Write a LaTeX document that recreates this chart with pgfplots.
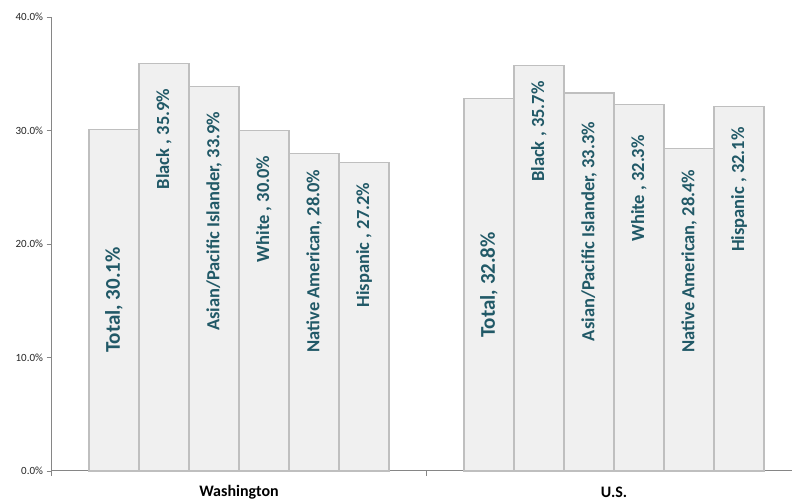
\documentclass[border=0pt]{standalone}
\usepackage{pgfplots}
\pgfplotsset{compat=1.18}
\usepackage{fontspec}
\setmainfont{Carlito}
\definecolor{barfill}{HTML}{F0F0F0}
\definecolor{bardraw}{HTML}{BFBFBF}
\definecolor{axisgray}{HTML}{868686}
\definecolor{lbl}{HTML}{215967}
\begin{document}
\begin{tikzpicture}
\begin{axis}[
  at={(51.5pt,31pt)}, anchor=south west,
  scale only axis, width=740.5pt, height=454pt,
  xmin=0, xmax=14.81, ymin=0, ymax=40,
  axis x line*=bottom, axis y line*=left,
  axis line style={axisgray, line width=1pt, -},
  xtick={0,7.5}, xticklabels={},
  ytick={0,10,20,30,40},
  tick style={axisgray, line width=0.8pt},
  tick align=outside, major tick length=5pt,
  yticklabel={\pgfmathprintnumber[fixed,fixed zerofill,precision=1]{\tick}\%},
  /pgf/number format/assume math mode=true,
  ticklabel style={font=\fontsize{11}{13}\selectfont, color=black!85},
  ybar, bar width=1,
  clip=false,
]
\addplot[fill=barfill, draw=bardraw, line width=1.2pt] coordinates {
  (1.25,30.1) (2.25,35.9) (3.25,33.9) (4.25,30.0) (5.25,28.0) (6.25,27.2)
  (8.75,32.8) (9.75,35.7) (10.75,33.3) (11.75,32.3) (12.75,28.4) (13.75,32.1)
};
\begin{scope}[every node/.style={rotate=90, anchor=center, text=lbl, font=\bfseries\fontsize{18.5}{20}\selectfont}]
\node[font=\bfseries\fontsize{21}{23}\selectfont] at (axis cs:1.25,15.07) {Total, 30.1\%};
\node at (axis cs:2.25,29.25) {Black , 35.9\%};
\node at (axis cs:3.25,22.0) {Asian/Pacific Islander, 33.9\%};
\node at (axis cs:4.25,23.1) {White , 30.0\%};
\node at (axis cs:5.25,18.5) {Native American, 28.0\%};
\node at (axis cs:6.25,19.9) {Hispanic , 27.2\%};
\node[font=\bfseries\fontsize{21}{23}\selectfont] at (axis cs:8.75,16.4) {Total, 32.8\%};
\node at (axis cs:9.75,29.9) {Black , 35.7\%};
\node at (axis cs:10.75,21.1) {Asian/Pacific Islander, 33.3\%};
\node at (axis cs:11.75,24.9) {White , 32.3\%};
\node at (axis cs:12.75,18.5) {Native American, 28.4\%};
\node at (axis cs:13.75,24.8) {Hispanic , 32.1\%};
\end{scope}
\node[font=\bfseries\fontsize{16}{18}\selectfont] at ([yshift=-21pt]axis cs:3.75,0) {Washington};
\node[font=\bfseries\fontsize{16}{18}\selectfont] at ([yshift=-21pt]axis cs:11.25,0) {U.S.};
\end{axis}
\pgfresetboundingbox
\path[use as bounding box] (0,0) rectangle (792pt,502pt);
\end{tikzpicture}
\end{document}
